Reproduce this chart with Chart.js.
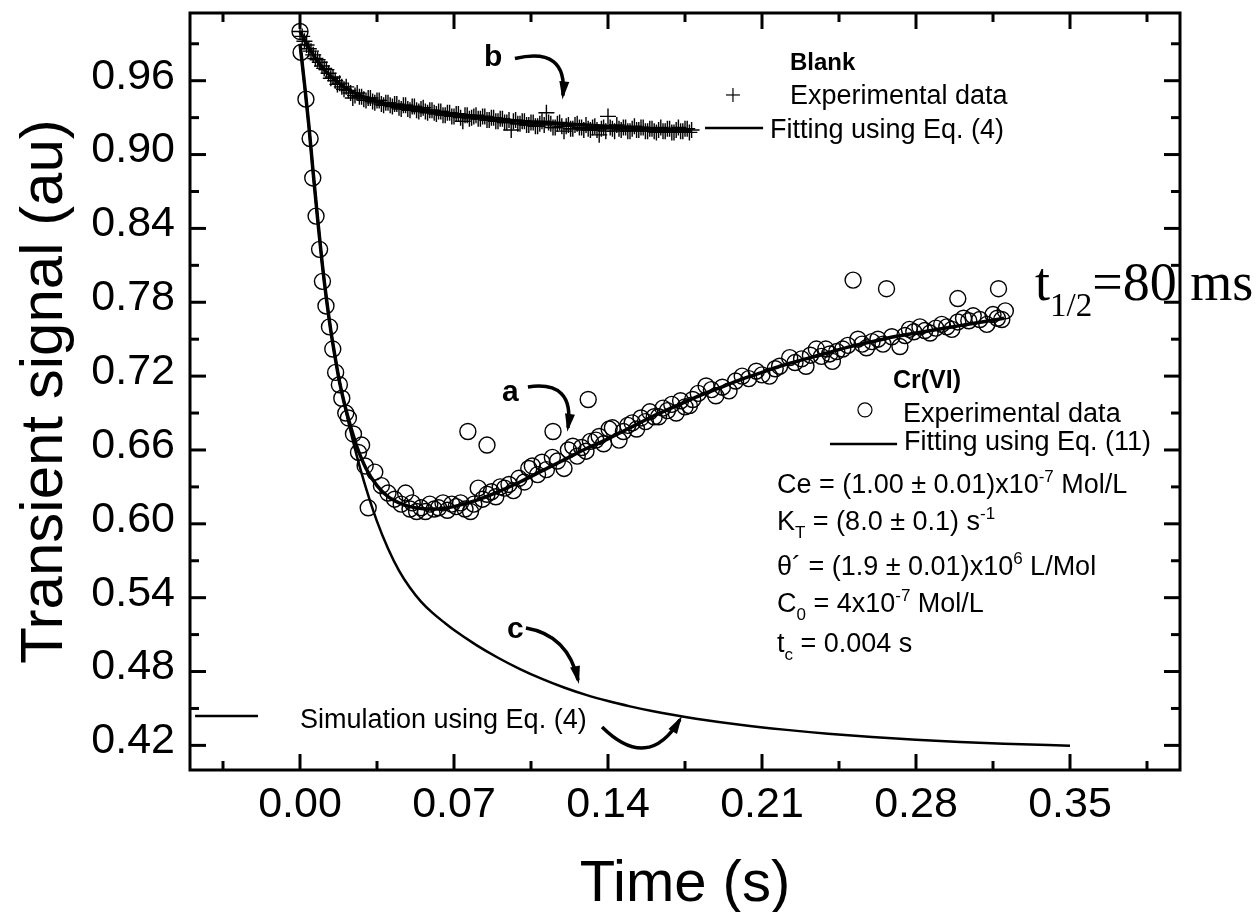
<!DOCTYPE html>
<html>
<head>
<meta charset="utf-8">
<script src="https://cdn.jsdelivr.net/npm/chart.js@4.4.1/dist/chart.umd.min.js"></script>
<style>
  html, body { margin: 0; padding: 0; background: #fff; }
  #chart { display: block; }
</style>
</head>
<body>
<canvas id="chart" width="1258" height="912"></canvas>
<script>
const SANS = '"Liberation Sans", Arial, sans-serif';
const SERIF = '"Liberation Serif", "Times New Roman", serif';

// axis ticks
const xTicks = [0, 0.07, 0.14, 0.21, 0.28, 0.35];
const yTicks = [0.42, 0.48, 0.54, 0.60, 0.66, 0.72, 0.78, 0.84, 0.90, 0.96];

// b: blank, experimental data (one reading per ms)
const blankTime = [
  0.000, 0.001, 0.002, 0.003, 0.004, 0.005, 0.006, 0.007, 0.008, 0.009,
  0.010, 0.011, 0.012, 0.013, 0.014, 0.015, 0.016, 0.017, 0.018, 0.019,
  0.020, 0.021, 0.022, 0.023, 0.024, 0.025, 0.026, 0.027, 0.028, 0.029,
  0.030, 0.031, 0.032, 0.033, 0.034, 0.035, 0.036, 0.037, 0.038, 0.039,
  0.040, 0.041, 0.042, 0.043, 0.044, 0.045, 0.046, 0.047, 0.048, 0.049,
  0.050, 0.051, 0.052, 0.053, 0.054, 0.055, 0.056, 0.057, 0.058, 0.059,
  0.060, 0.061, 0.062, 0.063, 0.064, 0.065, 0.066, 0.067, 0.068, 0.069,
  0.070, 0.071, 0.072, 0.073, 0.074, 0.075, 0.076, 0.077, 0.078, 0.079,
  0.080, 0.081, 0.082, 0.083, 0.084, 0.085, 0.086, 0.087, 0.088, 0.089,
  0.090, 0.091, 0.092, 0.093, 0.094, 0.095, 0.096, 0.097, 0.098, 0.099,
  0.100, 0.101, 0.102, 0.103, 0.104, 0.105, 0.106, 0.107, 0.108, 0.109,
  0.110, 0.111, 0.112, 0.113, 0.114, 0.115, 0.116, 0.117, 0.118, 0.119,
  0.120, 0.121, 0.122, 0.123, 0.124, 0.125, 0.126, 0.127, 0.128, 0.129,
  0.130, 0.131, 0.132, 0.133, 0.134, 0.135, 0.136, 0.137, 0.138, 0.139,
  0.140, 0.141, 0.142, 0.143, 0.144, 0.145, 0.146, 0.147, 0.148, 0.149,
  0.150, 0.151, 0.152, 0.153, 0.154, 0.155, 0.156, 0.157, 0.158, 0.159,
  0.160, 0.161, 0.162, 0.163, 0.164, 0.165, 0.166, 0.167, 0.168, 0.169,
  0.170, 0.171, 0.172, 0.173, 0.174, 0.175, 0.176, 0.177, 0.178
];
const blankSignal = [
  1.000, 0.996, 0.992, 0.989, 0.986, 0.984, 0.981, 0.978, 0.977, 0.975,
  0.972, 0.970, 0.969, 0.966, 0.962, 0.963, 0.960, 0.957, 0.958, 0.955,
  0.953, 0.955, 0.952, 0.950, 0.946, 0.948, 0.950, 0.947, 0.947, 0.945,
  0.944, 0.946, 0.946, 0.943, 0.942, 0.944, 0.944, 0.941, 0.940, 0.942,
  0.942, 0.940, 0.939, 0.941, 0.941, 0.938, 0.937, 0.940, 0.940, 0.937,
  0.936, 0.939, 0.939, 0.936, 0.935, 0.937, 0.938, 0.935, 0.934, 0.936,
  0.936, 0.934, 0.933, 0.935, 0.935, 0.932, 0.932, 0.934, 0.934, 0.931,
  0.931, 0.933, 0.933, 0.930, 0.927, 0.932, 0.932, 0.929, 0.930, 0.931,
  0.932, 0.929, 0.929, 0.931, 0.931, 0.928, 0.928, 0.930, 0.930, 0.927,
  0.927, 0.929, 0.929, 0.926, 0.926, 0.928, 0.920, 0.927, 0.928, 0.925,
  0.925, 0.927, 0.927, 0.924, 0.924, 0.926, 0.926, 0.923, 0.923, 0.925,
  0.927, 0.924, 0.934, 0.926, 0.925, 0.922, 0.922, 0.925, 0.926, 0.923,
  0.919, 0.923, 0.924, 0.921, 0.921, 0.924, 0.925, 0.922, 0.922, 0.920,
  0.924, 0.921, 0.920, 0.922, 0.923, 0.920, 0.916, 0.921, 0.922, 0.919,
  0.931, 0.922, 0.921, 0.919, 0.924, 0.921, 0.920, 0.922, 0.922, 0.919,
  0.919, 0.921, 0.923, 0.920, 0.920, 0.922, 0.922, 0.919, 0.919, 0.921,
  0.921, 0.919, 0.918, 0.920, 0.922, 0.919, 0.919, 0.921, 0.921, 0.918,
  0.918, 0.920, 0.922, 0.919, 0.919, 0.921, 0.921, 0.918, 0.920
];

// b: fit with Eq. (4)
const blankFitTime = [0, 0.005, 0.010, 0.015, 0.020, 0.030, 0.040, 0.050, 0.060, 0.070,
  0.080, 0.090, 0.100, 0.110, 0.120, 0.130, 0.140, 0.150, 0.160, 0.170, 0.178];
const blankFitSignal = [1.000, 0.984, 0.971, 0.962, 0.955, 0.946, 0.941, 0.938, 0.935, 0.933,
  0.931, 0.929, 0.927, 0.926, 0.925, 0.924, 0.923, 0.922, 0.921, 0.920, 0.920];

// a: Cr(VI), experimental data
const crTime = [
  0, 0.0005, 0.0027, 0.0046, 0.0058, 0.0073, 0.0089, 0.0102, 0.0118, 0.0134,
  0.0149, 0.0162, 0.0179, 0.019, 0.0208, 0.022, 0.0243, 0.0266, 0.028, 0.0296,
  0.031, 0.034, 0.037, 0.040, 0.043, 0.046, 0.048, 0.050, 0.051, 0.053,
  0.055, 0.057, 0.059, 0.061, 0.063, 0.065, 0.067, 0.069, 0.071, 0.073,
  0.075, 0.0763, 0.0775, 0.079, 0.081, 0.083, 0.085, 0.085, 0.087, 0.089,
  0.091, 0.093, 0.095, 0.097, 0.0995, 0.102, 0.104, 0.1056, 0.108, 0.110,
  0.112, 0.1147, 0.115, 0.117, 0.120, 0.122, 0.124, 0.126, 0.128, 0.130,
  0.131, 0.132, 0.1345, 0.136, 0.138, 0.1405, 0.142, 0.145, 0.147, 0.149,
  0.151, 0.153, 0.155, 0.157, 0.159, 0.161, 0.163, 0.165, 0.167, 0.169,
  0.171, 0.173, 0.175, 0.177, 0.1785, 0.181, 0.1846, 0.187, 0.189, 0.192,
  0.195, 0.198, 0.201, 0.204, 0.2074, 0.210, 0.2134, 0.216, 0.218, 0.2226,
  0.225, 0.228, 0.230, 0.232, 0.2347, 0.237, 0.239, 0.2408, 0.242, 0.244,
  0.2467, 0.249, 0.2514, 0.2536, 0.2555, 0.2575, 0.260, 0.2627, 0.265, 0.2666,
  0.269, 0.2727, 0.275, 0.277, 0.279, 0.2818, 0.284, 0.2864, 0.289, 0.2917,
  0.294, 0.2963, 0.299, 0.299, 0.3016, 0.304, 0.306, 0.309, 0.3122, 0.315,
  0.317, 0.3175, 0.319, 0.3206
];
const crSignal = [
  1.000, 0.983, 0.945, 0.913, 0.881, 0.850, 0.823, 0.797, 0.777, 0.760,
  0.742, 0.723, 0.713, 0.702, 0.690, 0.686, 0.673, 0.658, 0.664, 0.647,
  0.613, 0.642, 0.631, 0.625, 0.620, 0.616, 0.625, 0.612, 0.617, 0.610,
  0.613, 0.610, 0.616, 0.612, 0.613, 0.617, 0.611, 0.616, 0.614, 0.617,
  0.612, 0.675, 0.610, 0.616, 0.629, 0.620, 0.624, 0.664, 0.626, 0.622,
  0.630, 0.629, 0.632, 0.627, 0.637, 0.634, 0.645, 0.647, 0.640, 0.650,
  0.644, 0.654, 0.675, 0.651, 0.645, 0.660, 0.663, 0.655, 0.662, 0.659,
  0.701, 0.667, 0.668, 0.671, 0.665, 0.677, 0.678, 0.668, 0.675, 0.680,
  0.682, 0.677, 0.686, 0.683, 0.691, 0.687, 0.687, 0.694, 0.692, 0.697,
  0.690, 0.700, 0.695, 0.696, 0.701, 0.706, 0.712, 0.709, 0.704, 0.711,
  0.708, 0.716, 0.720, 0.718, 0.724, 0.721, 0.720, 0.726, 0.728, 0.735,
  0.731, 0.734, 0.728, 0.737, 0.742, 0.736, 0.742, 0.738, 0.732, 0.740,
  0.742, 0.745, 0.798, 0.750, 0.746, 0.743, 0.748, 0.750, 0.746, 0.791,
  0.752, 0.744, 0.753, 0.758, 0.756, 0.760, 0.757, 0.755, 0.759, 0.762,
  0.760, 0.758, 0.764, 0.783, 0.767, 0.765, 0.769, 0.766, 0.762, 0.770,
  0.767, 0.791, 0.766, 0.773
];

// a: fit with Eq. (11)
const crFitTime = [0, 0.002, 0.004, 0.006, 0.008, 0.010, 0.012, 0.014, 0.016, 0.018,
  0.020, 0.023, 0.026, 0.030, 0.035, 0.040, 0.045, 0.050, 0.055, 0.060,
  0.065, 0.070, 0.080, 0.090, 0.100, 0.110, 0.120, 0.130, 0.140, 0.150,
  0.160, 0.170, 0.180, 0.190, 0.200, 0.210, 0.220, 0.230, 0.240, 0.250,
  0.260, 0.270, 0.280, 0.290, 0.300, 0.310, 0.320];
const crFitSignal = [0.990, 0.958, 0.924, 0.885, 0.848, 0.813, 0.783, 0.757, 0.735, 0.715,
  0.699, 0.679, 0.662, 0.645, 0.631, 0.622, 0.617, 0.614, 0.6125, 0.612,
  0.6125, 0.614, 0.619, 0.626, 0.634, 0.643, 0.652, 0.661, 0.669, 0.678,
  0.687, 0.695, 0.703, 0.710, 0.717, 0.723, 0.729, 0.734, 0.739, 0.744,
  0.748, 0.752, 0.755, 0.758, 0.761, 0.764, 0.767];

// c: simulation with Eq. (4)
const simTime = [0, 0.002, 0.004, 0.006, 0.008, 0.010, 0.012, 0.014, 0.016, 0.018,
  0.020, 0.023, 0.026, 0.030, 0.035, 0.040, 0.045, 0.050, 0.055, 0.060,
  0.066, 0.070, 0.080, 0.090, 0.100, 0.110, 0.120, 0.130, 0.140, 0.150,
  0.160, 0.170, 0.180, 0.200, 0.220, 0.240, 0.260, 0.280, 0.300, 0.320, 0.350];
const simSignal = [0.990, 0.958, 0.924, 0.885, 0.848, 0.813, 0.783, 0.757, 0.735, 0.715,
  0.699, 0.675, 0.654, 0.629, 0.602, 0.580, 0.562, 0.548, 0.5368, 0.528,
  0.5192, 0.5137, 0.5017, 0.4912, 0.482, 0.474, 0.467, 0.461, 0.456, 0.4517,
  0.4479, 0.4446, 0.4417, 0.4368, 0.4328, 0.4295, 0.4268, 0.4246, 0.4228, 0.4214, 0.4197];

function pairs(xs, ys) {
  return xs.map((x, i) => ({ x: x, y: ys[i] }));
}

function arrow(ctx, x0, y0, cx, cy, x1, y1) {
  ctx.lineWidth = 3.5;
  ctx.beginPath();
  ctx.moveTo(x0, y0);
  ctx.quadraticCurveTo(cx, cy, x1, y1);
  ctx.stroke();
  const ang = Math.atan2(y1 - cy, x1 - cx);
  const len = 14, half = 5;
  ctx.beginPath();
  ctx.moveTo(x1 + Math.cos(ang) * 4, y1 + Math.sin(ang) * 4);
  ctx.lineTo(x1 - Math.cos(ang) * len + Math.sin(ang) * half, y1 - Math.sin(ang) * len - Math.cos(ang) * half);
  ctx.lineTo(x1 - Math.cos(ang) * len - Math.sin(ang) * half, y1 - Math.sin(ang) * len + Math.cos(ang) * half);
  ctx.closePath();
  ctx.fill();
}

// text with sub/superscript runs, y is the baseline
function richText(ctx, x, y, runs, size, family) {
  let cx = x;
  runs.forEach(r => {
    const small = r.sub || r.sup;
    const s = small ? Math.round(size * 0.62) : size;
    ctx.font = s + 'px ' + (family || SANS);
    const dy = r.sup ? -size * 0.4 : (r.sub ? size * 0.3 : 0);
    ctx.fillText(r.t, cx, y + dy);
    cx += ctx.measureText(r.t).width + (r.gap || 0);
  });
}

const decorations = {
  id: 'decorations',
  afterDraw(chart) {
    const ctx = chart.ctx;
    const a = chart.chartArea;
    const sx = chart.scales.x, sy = chart.scales.y;
    const X = t => sx.getPixelForValue(t);
    const Y = v => sy.getPixelForValue(v);
    ctx.save();
    ctx.strokeStyle = '#000';
    ctx.fillStyle = '#000';
    ctx.lineCap = 'butt';

    // frame
    ctx.lineWidth = 3;
    ctx.strokeRect(a.left, a.top, a.right - a.left, a.bottom - a.top);

    // inward ticks on all four sides
    const seg = (x0, y0, x1, y1) => { ctx.beginPath(); ctx.moveTo(x0, y0); ctx.lineTo(x1, y1); ctx.stroke(); };
    const major = 16, minor = 9;
    const xStep = xTicks[1] - xTicks[0];
    const yStep = yTicks[1] - yTicks[0];
    ctx.lineWidth = 3;
    xTicks.forEach(t => {
      seg(X(t), a.bottom, X(t), a.bottom - major);
      seg(X(t), a.top, X(t), a.top + major);
    });
    for (let i = -1; i < xTicks.length; i++) {
      const t = xTicks[0] + (i + 0.5) * xStep;
      if (t < sx.min || t > sx.max) continue;
      seg(X(t), a.bottom, X(t), a.bottom - minor);
      seg(X(t), a.top, X(t), a.top + minor);
    }
    yTicks.forEach(v => {
      seg(a.left, Y(v), a.left + major, Y(v));
      seg(a.right, Y(v), a.right - major, Y(v));
    });
    for (let i = -1; i < yTicks.length; i++) {
      const v = yTicks[0] + (i + 0.5) * yStep;
      if (v < sy.min || v > sy.max) continue;
      seg(a.left, Y(v), a.left + minor, Y(v));
      seg(a.right, Y(v), a.right - minor, Y(v));
    }

    ctx.textAlign = 'left';
    ctx.textBaseline = 'alphabetic';

    // curve labels and arrows
    ctx.font = 'bold 30px ' + SANS;
    ctx.fillText('b', X(0.0836), Y(0.972));
    arrow(ctx, X(0.0977), Y(0.978), X(0.1218), Y(0.988), X(0.1195), Y(0.948));
    ctx.font = 'bold 30px ' + SANS;
    ctx.fillText('a', X(0.0918), Y(0.700));
    arrow(ctx, X(0.1036), Y(0.7112), X(0.125), Y(0.7168), X(0.1218), Y(0.678));
    ctx.font = 'bold 30px ' + SANS;
    ctx.fillText('c', X(0.0941), Y(0.507));
    arrow(ctx, X(0.1027), Y(0.5154), X(0.1218), Y(0.5097), X(0.1264), Y(0.473));
    arrow(ctx, X(0.1373), Y(0.435), X(0.1582), Y(0.398), X(0.1727), Y(0.441));

    // blank legend
    ctx.font = 'bold 24px ' + SANS;
    ctx.fillText('Blank', X(0.2227), Y(0.9687));
    ctx.lineWidth = 1.2;
    const px = X(0.1968), pyy = Y(0.9484);
    seg(px - 7, pyy, px + 7, pyy);
    seg(px, pyy - 7, px, pyy + 7);
    ctx.font = '27px ' + SANS;
    ctx.fillText('Experimental data', X(0.2227), Y(0.941));
    ctx.lineWidth = 2.5;
    seg(X(0.1841), Y(0.9216), X(0.2105), Y(0.9216));
    ctx.fillText('Fitting using Eq. (4)', X(0.2136), Y(0.9135));

    // Cr(VI) legend
    ctx.font = 'bold 25px ' + SANS;
    ctx.fillText('Cr(VI)', X(0.2695), Y(0.7103));
    ctx.lineWidth = 1.2;
    ctx.beginPath();
    ctx.arc(X(0.2568), Y(0.6925), 7, 0, Math.PI * 2);
    ctx.stroke();
    ctx.font = '27px ' + SANS;
    ctx.fillText('Experimental data', X(0.2741), Y(0.6827));
    ctx.lineWidth = 2.5;
    seg(X(0.2409), Y(0.6649), X(0.2714), Y(0.6649));
    ctx.fillText('Fitting using Eq. (11)', X(0.2745), Y(0.660));

    // fitted parameters
    const px0 = X(0.2168);
    richText(ctx, px0, Y(0.625), [{ t: 'Ce = (1.00 \u00B1 0.01)x10' }, { t: '-7', sup: true }, { t: ' Mol/L' }], 27);
    richText(ctx, px0, Y(0.595), [{ t: 'K' }, { t: 'T', sub: true }, { t: ' = (8.0 \u00B1 0.1) s' }, { t: '-1', sup: true }], 27);
    richText(ctx, px0, Y(0.5584), [{ t: '\u03B8\u00B4 = (1.9 \u00B1 0.01)x10' }, { t: '6', sup: true }, { t: ' L/Mol' }], 27);
    richText(ctx, px0, Y(0.5284), [{ t: 'C' }, { t: '0', sub: true }, { t: ' = 4x10' }, { t: '-7', sup: true }, { t: ' Mol/L' }], 27);
    richText(ctx, px0, Y(0.4959), [{ t: 't' }, { t: 'c', sub: true }, { t: ' = 0.004 s' }], 27);

    // simulation legend
    ctx.lineWidth = 2.5;
    seg(X(-0.0477), Y(0.4439), X(-0.0191), Y(0.4439));
    ctx.font = '27px ' + SANS;
    ctx.fillText('Simulation using Eq. (4)', X(0.0), Y(0.4341));

    // half-life
    richText(ctx, X(0.3341), Y(0.7818), [{ t: 't' }, { t: '1/2', sub: true }, { t: '=80 ms' }], 54, SERIF);

    ctx.restore();
  }
};

const tickFont = { family: SANS, size: 43 };

new Chart(document.getElementById('chart'), {
  type: 'scatter',
  data: {
    datasets: [
      {
        label: 'Fitting using Eq. (11)',
        data: pairs(crFitTime, crFitSignal),
        showLine: true,
        borderColor: '#000',
        borderWidth: 3.5,
        pointRadius: 0,
        cubicInterpolationMode: 'monotone'
      },
      {
        label: 'Fitting using Eq. (4)',
        data: pairs(blankFitTime, blankFitSignal),
        showLine: true,
        borderColor: '#000',
        borderWidth: 3.5,
        pointRadius: 0,
        cubicInterpolationMode: 'monotone'
      },
      {
        label: 'Simulation using Eq. (4)',
        data: pairs(simTime, simSignal),
        showLine: true,
        borderColor: '#000',
        borderWidth: 2.5,
        pointRadius: 0,
        cubicInterpolationMode: 'monotone'
      },
      {
        label: 'Blank experimental data',
        data: pairs(blankTime, blankSignal),
        pointStyle: 'cross',
        pointRadius: 8,
        borderColor: '#000',
        borderWidth: 1.4
      },
      {
        label: 'Cr(VI) experimental data',
        data: pairs(crTime, crSignal),
        pointStyle: 'circle',
        pointRadius: 8,
        borderColor: '#000',
        backgroundColor: 'rgba(0,0,0,0)',
        borderWidth: 1.4
      }
    ]
  },
  options: {
    responsive: false,
    animation: false,
    devicePixelRatio: 1,
    events: [],
    layout: { padding: { left: 0, top: 13, right: 78, bottom: 0 } },
    plugins: { legend: { display: false }, tooltip: { enabled: false } },
    scales: {
      x: {
        type: 'linear',
        min: -0.05,
        max: 0.40,
        afterBuildTicks: s => { s.ticks = xTicks.map(v => ({ value: v })); },
        afterFit: s => { s.height = 142; s.paddingLeft = 0; s.paddingRight = 0; },
        grid: { display: false, drawTicks: false },
        border: { display: false },
        ticks: {
          font: tickFont, color: '#000', padding: 9, maxRotation: 0, autoSkip: false,
          callback: v => Number(v).toFixed(2)
        },
        title: {
          display: true, text: 'Time (s)', color: '#000',
          font: { family: SANS, size: 58, lineHeight: 1 }, padding: { top: 0, bottom: -2 }
        }
      },
      y: {
        type: 'linear',
        min: 0.40,
        max: 1.015,
        afterBuildTicks: s => { s.ticks = yTicks.map(v => ({ value: v })); },
        afterFit: s => { s.width = 190; s.paddingTop = 0; s.paddingBottom = 0; },
        grid: { display: false, drawTicks: false },
        border: { display: false },
        ticks: {
          font: tickFont, color: '#000', padding: 15, labelOffset: -4, autoSkip: false,
          callback: v => Number(v).toFixed(2)
        },
        title: {
          display: true, text: 'Transient signal (au)', color: '#000',
          font: { family: SANS, size: 60, lineHeight: 1 }, padding: { top: 15, bottom: 0 }
        }
      }
    }
  },
  plugins: [decorations]
});
</script>
</body>
</html>
